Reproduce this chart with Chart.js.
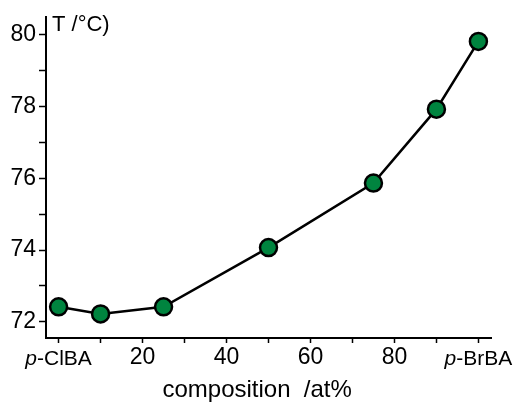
<!DOCTYPE html>
<html>
<head>
<meta charset="utf-8">
<script src="https://cdn.jsdelivr.net/npm/chart.js@4"></script>
<style>
html,body{margin:0;padding:0;background:#fff;}
#wrap{width:514px;height:402px;position:relative;}
</style>
</head>
<body>
<div id="wrap"><canvas id="c" width="514" height="402"></canvas></div>
<script>
const composition = [0, 10, 25, 50, 75, 90, 100];
const temperature = [72.42, 72.22, 72.42, 74.07, 75.87, 77.93, 79.82];
const xTicks = [0, 10, 20, 30, 40, 50, 60, 70, 80, 90, 100];
const xTickLabels = {0: 'p-ClBA', 20: '20', 40: '40', 60: '60', 80: '80', 100: 'p-BrBA'};
const yTicks = [72, 73, 74, 75, 76, 77, 78, 79, 80];
const yTickLabels = {72: '72', 74: '74', 76: '76', 78: '78', 80: '80'};
const yLabel = 'T /°C)';
const xLabel = 'composition  /at%';

const FONT = 'Liberation Sans, Arial, sans-serif';

const customText = {
  id: 'customText',
  afterDraw(chart) {
    const ctx = chart.ctx;
    const xs = chart.scales.x;
    const ys = chart.scales.y;
    ctx.save();
    ctx.fillStyle = '#000';
    ctx.textBaseline = 'alphabetic';
    ctx.font = '22px ' + FONT;
    ctx.textAlign = 'left';
    ctx.fillText(yLabel, xs.left + 6, ys.top + 14);
    // x-axis title, centred slightly left of the plot centre as in the original
    ctx.font = '24px ' + FONT;
    ctx.textAlign = 'center';
    ctx.fillText(xLabel, xs.getPixelForValue(47.3), xs.top + 59);
    const baseY = xs.top + 27;
    [0, 100].forEach(v => {
      const txt = xTickLabels[v];
      const pre = txt.slice(0, 1);
      const rest = txt.slice(1);
      ctx.font = 'italic 21px ' + FONT;
      const w1 = ctx.measureText(pre).width;
      ctx.font = '21px ' + FONT;
      const w2 = ctx.measureText(rest).width;
      const cx = xs.getPixelForValue(v);
      const x0 = cx - (w1 + w2) / 2;
      ctx.textAlign = 'left';
      ctx.font = 'italic 21px ' + FONT;
      ctx.fillText(pre, x0, baseY);
      ctx.font = '21px ' + FONT;
      ctx.fillText(rest, x0 + w1, baseY);
    });
    ctx.restore();
  }
};

new Chart(document.getElementById('c'), {
  type: 'scatter',
  data: {
    datasets: [{
      data: composition.map((x, i) => ({x: x, y: temperature[i]})),
      showLine: true,
      borderColor: '#000',
      borderWidth: 2.5,
      pointRadius: 8.5,
      pointHoverRadius: 8.5,
      pointBackgroundColor: '#00843f',
      pointBorderColor: '#000',
      pointBorderWidth: 2.5,
      clip: false
    }]
  },
  options: {
    responsive: false,
    animation: false,
    events: [],
    layout: {padding: {left: 0, right: 23, top: 17, bottom: 0}},
    plugins: {legend: {display: false}, tooltip: {enabled: false}},
    scales: {
      x: {
        type: 'linear',
        min: -3,
        max: 103,
        afterBuildTicks(s) { s.ticks = xTicks.map(v => ({value: v})); },
        afterFit(s) { s.height = 64; },
        grid: {drawOnChartArea: false, drawTicks: true, tickLength: 5, tickColor: '#000', tickWidth: 1.5},
        border: {display: true, color: '#000', width: 2},
        ticks: {
          color: '#000',
          font: {family: FONT, size: 23},
          padding: 1,
          maxRotation: 0,
          autoSkip: false,
          callback: v => (v === 0 || v === 100) ? '' : (xTickLabels[v] || '')
        }
      },
      y: {
        type: 'linear',
        min: 71.55,
        max: 80.5,
        afterBuildTicks(s) { s.ticks = yTicks.map(v => ({value: v})); },
        afterFit(s) { s.width = 46; },
        grid: {drawOnChartArea: false, drawTicks: true, tickLength: 7, tickColor: '#000', tickWidth: 1.5},
        border: {display: true, color: '#000', width: 2},
        ticks: {
          color: '#000',
          font: {family: FONT, size: 23},
          padding: 3,
          autoSkip: false,
          callback: v => yTickLabels[v] || ''
        }
      }
    }
  },
  plugins: [customText]
});
</script>
</body>
</html>
